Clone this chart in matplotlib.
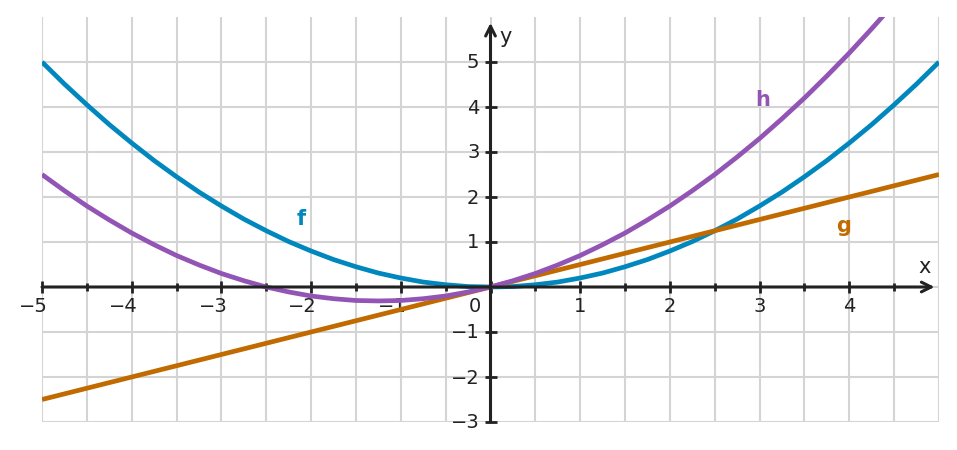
"""Plot f, g and h = f + g on a centred coordinate cross."""
import matplotlib
matplotlib.use("Agg")
import matplotlib.pyplot as plt
import numpy as np

# values at 0.25 steps
x_vals = np.arange(-5, 5.001, 0.25)
f_vals = [5.0, 4.51, 4.05, 3.61, 3.2, 2.81, 2.45, 2.11, 1.8, 1.51, 1.25, 1.01,
          0.8, 0.61, 0.45, 0.31, 0.2, 0.11, 0.05, 0.01, 0.0,
          0.01, 0.05, 0.11, 0.2, 0.31, 0.45, 0.61, 0.8, 1.01, 1.25, 1.51,
          1.8, 2.11, 2.45, 2.81, 3.2, 3.61, 4.05, 4.51, 5.0]
h_vals = [2.5, 2.14, 1.8, 1.49, 1.2, 0.94, 0.7, 0.49, 0.3, 0.14, 0.0, -0.11,
          -0.2, -0.26, -0.3, -0.31, -0.3, -0.26, -0.2, -0.11, 0.0,
          0.14, 0.3, 0.49, 0.7, 0.94, 1.2, 1.49, 1.8, 2.14, 2.5, 2.89,
          3.3, 3.74, 4.2, 4.69, 5.2, 5.74, 6.3, 6.89, 7.5]
g_x = [-5, 0, 5]
g_vals = [-2.5, 0.0, 2.5]

x_ticks = [-5, -4, -3, -2, -1, 1, 2, 3, 4]
x_labels = ["−5", "−4", "−3", "−2", "−1", "1", "2", "3", "4"]
y_ticks = [-3, -2, -1, 1, 2, 3, 4, 5]
y_labels = ["−3", "−2", "−1", "1", "2", "3", "4", "5"]

F_COL = "#0087BE"
G_COL = "#C06A00"
H_COL = "#9355B5"
AX_COL = "#222222"

fig = plt.figure(figsize=(9.57, 4.5), dpi=100)
ax = fig.add_axes([42 / 957, 28 / 450, 897 / 957, 405 / 450])
ax.set_xlim(-5, 5)
ax.set_ylim(-3, 6)

# grid
for gx in np.arange(-5, 5.01, 0.5):
    ax.axvline(gx, color="#d4d4d4", lw=1.5, zorder=0)
for gy in range(-3, 6):
    ax.axhline(gy, color="#d4d4d4", lw=1.5, zorder=0)

for s in ax.spines.values():
    s.set_visible(False)
ax.spines["bottom"].set_position(("data", 0))
ax.spines["left"].set_position(("data", 0))

# axes with arrow heads
arrow = dict(arrowstyle="->,head_length=0.7,head_width=0.35", lw=2.2,
             color=AX_COL, shrinkA=0, shrinkB=0)
ax.annotate("", xy=(4.95, 0), xytext=(-5, 0), arrowprops=arrow, zorder=4)
ax.annotate("", xy=(0, 5.87), xytext=(0, -3), arrowprops=arrow, zorder=4)

ax.set_xticks(x_ticks + [0])
ax.set_xticks(np.arange(-4.5, 5, 0.5), minor=True)
ax.set_yticks(y_ticks)
ax.set_xticklabels([])
ax.set_yticklabels([])
ax.tick_params(which="major", direction="inout", length=8, width=2,
               color=AX_COL)
ax.tick_params(which="minor", direction="inout", length=6, width=2,
               color=AX_COL)

lbl = dict(fontsize=14, color=AX_COL, textcoords="offset pixels")
for t, s in zip(x_ticks, x_labels):
    ax.annotate(s, (t, 0), xytext=(6, -20), ha="right", va="center", **lbl)
ax.annotate("0", (0, 0), xytext=(-16, -20), ha="center", va="center", **lbl)
for t, s in zip(y_ticks, y_labels):
    ax.annotate(s, (0, t), xytext=(-11, -1), ha="right", va="center", **lbl)

ax.text(4.84, 0.44, "x", fontsize=15, color=AX_COL, ha="center", va="center")
ax.text(0.17, 5.56, "y", fontsize=15, color=AX_COL, ha="center", va="center")

# curves
ax.plot(x_vals, f_vals, color=F_COL, lw=3.4, zorder=3, solid_capstyle="butt")
ax.plot(g_x, g_vals, color=G_COL, lw=3.4, zorder=3, solid_capstyle="butt")
ax.plot(x_vals, h_vals, color=H_COL, lw=3.4, zorder=3, solid_capstyle="butt")

bold = dict(fontsize=15, fontweight="bold", ha="center", va="center")
ax.text(-2.11, 1.51, "f", color=F_COL, **bold)
ax.text(3.94, 1.36, "g", color=G_COL, **bold)
ax.text(3.03, 4.16, "h", color=H_COL, **bold)

fig.savefig("out.png", dpi=100)
